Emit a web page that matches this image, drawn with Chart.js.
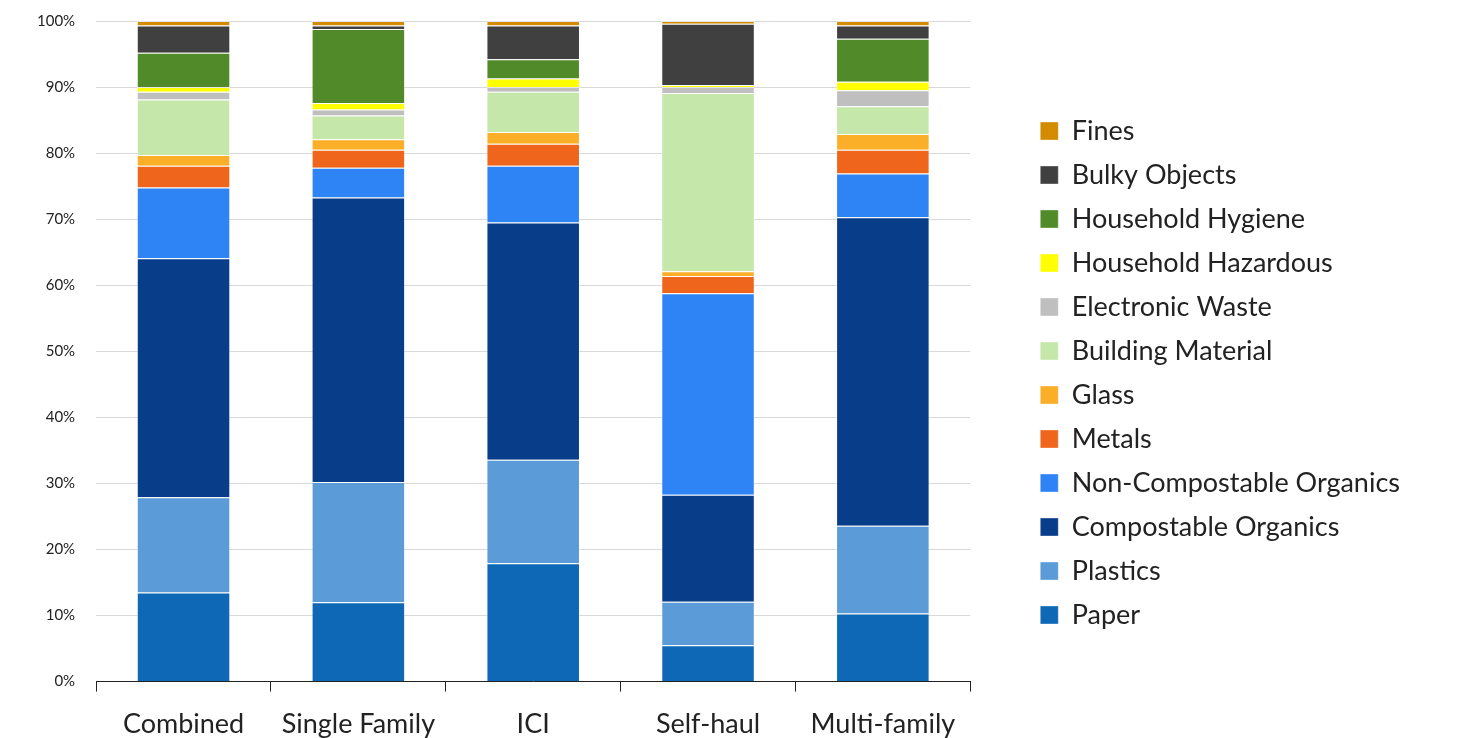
<!DOCTYPE html>
<html lang="en">
<head>
    <meta charset="UTF-8">
    <title>Waste Composition by Sector</title>
    <style>
        html, body { margin: 0; padding: 0; background: #fff; }
        .chart-container { width: 1463px; height: 738px; }
    </style>
</head>
<body>
    <div class="chart-container">
        <canvas id="stackedChart"></canvas>
    </div>

    <script src="https://cdn.jsdelivr.net/npm/chart.js"></script>
    <script>
        // Percent of total
        const categories = ['Combined', 'Single Family', 'ICI', 'Self-haul', 'Multi-family'];
        const paper = [13.5, 12.0, 17.9, 5.5, 10.3];
        const plastics = [14.4, 18.2, 15.7, 6.6, 13.3];
        const compostable = [36.2, 43.1, 35.9, 16.2, 46.7];
        const nonCompostable = [10.7, 4.5, 8.6, 30.5, 6.6];
        const metals = [3.3, 2.7, 3.3, 2.6, 3.6];
        const glass = [1.6, 1.6, 1.8, 0.7, 2.4];
        const building = [8.4, 3.6, 6.1, 27.0, 4.2];
        const electronic = [1.2, 0.9, 0.7, 0.9, 2.4];
        const hazardous = [0.7, 1.0, 1.3, 0.3, 1.3];
        const hygiene = [5.2, 11.2, 2.9, 0, 6.5];
        const bulky = [4.1, 0.5, 5.1, 9.3, 2.0];
        const fines = [0.7, 0.7, 0.7, 0.4, 0.7];

        const series = [
            ['Paper', paper, '#0E68B5'],
            ['Plastics', plastics, '#5B9BD8'],
            ['Compostable Organics', compostable, '#083D8A'],
            ['Non-Compostable Organics', nonCompostable, '#2E84F5'],
            ['Metals', metals, '#EE651B'],
            ['Glass', glass, '#FBAE27'],
            ['Building Material', building, '#C5E7AA'],
            ['Electronic Waste', electronic, '#BFBFBF'],
            ['Household Hazardous', hazardous, '#FFFF00'],
            ['Household Hygiene', hygiene, '#518A29'],
            ['Bulky Objects', bulky, '#404040'],
            ['Fines', fines, '#D38B00']
        ];

        const FONT = 'Lato';

        function drawChart() {
            const ctx = document.getElementById('stackedChart').getContext('2d');
            new Chart(ctx, {
                type: 'bar',
                data: {
                    labels: categories,
                    datasets: series.map(([label, values, color]) => ({
                        label: label,
                        data: values,
                        backgroundColor: color,
                        borderColor: 'rgba(255,255,255,0.35)',
                        borderWidth: 1,
                        barPercentage: 1,
                        categoryPercentage: 0.535
                    }))
                },
                options: {
                    responsive: true,
                    maintainAspectRatio: false,
                    animation: false,
                    layout: { padding: { left: 25, right: 53, top: -10, bottom: -18 } },
                    plugins: {
                        tooltip: { enabled: false },
                        legend: {
                            position: 'right',
                            reverse: true,
                            maxWidth: 500,
                            labels: {
                                boxWidth: 18,
                                boxHeight: 18,
                                padding: 17,
                                color: '#222',
                                font: { family: FONT, size: 27 }
                            }
                        }
                    },
                    scales: {
                        x: {
                            stacked: true,
                            grid: {
                                offset: true,
                                drawOnChartArea: false,
                                drawTicks: true,
                                tickLength: 10,
                                color: '#222'
                            },
                            border: { display: true, color: '#222', width: 1 },
                            ticks: {
                                color: '#222',
                                padding: 16,
                                font: { family: FONT, size: 27 }
                            }
                        },
                        y: {
                            stacked: true,
                            min: 0,
                            max: 100,
                            grid: {
                                color: '#D9D9D9',
                                drawTicks: true,
                                tickLength: 9,
                                tickColor: 'rgba(0,0,0,0)'
                            },
                            border: { display: false },
                            ticks: {
                                stepSize: 10,
                                padding: 12,
                                color: '#222',
                                font: { family: FONT, size: 15 },
                                callback: v => v + '%'
                            }
                        },
                        // empty spacer between plot and legend
                        gap: {
                            position: 'right',
                            display: true,
                            grid: { display: false },
                            border: { display: false },
                            ticks: { display: false },
                            afterFit: s => { s.width = 53; }
                        }
                    }
                }
            });
        }

        // wait for the local fonts so legend widths are measured right
        Promise.all([
            document.fonts.load('27px ' + FONT),
            document.fonts.load('15px ' + FONT)
        ]).then(drawChart, drawChart);
    </script>
</body>
</html>
